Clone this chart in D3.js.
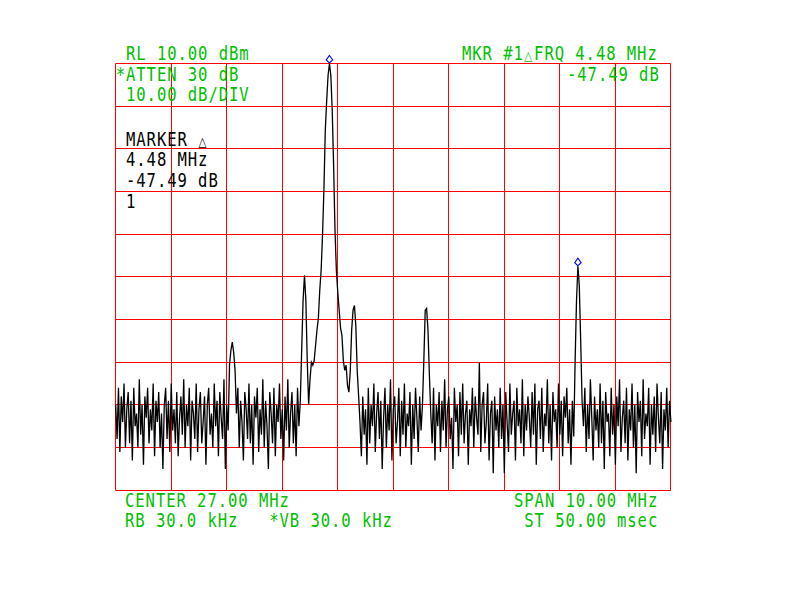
<!DOCTYPE html>
<html>
<head>
<meta charset="utf-8">
<script src="https://cdn.jsdelivr.net/npm/d3@7/dist/d3.min.js"></script>
<style>
  html, body { margin: 0; padding: 0; background: #ffffff; }
  svg { display: block; }
</style>
</head>
<body>
<script>
// ---------------- DATA ----------------
const startMHz = 22, stopMHz = 32;          // CENTER 27.00 MHz, SPAN 10.00 MHz
const refLevelDbm = 10, dbPerDiv = 10, nDivY = 10, nDivX = 10;
const nPoints = 401;

// trace amplitude (dBm), one value per sweep point (401 points)
const traceDb = [
  -70, -78, -66, -81, -68, -74, -65, -80, -71, -67,
  -79, -69, -83, -66, -75, -72, -80, -64, -77, -70,
  -84, -68, -73, -66, -79, -71, -76, -65, -82, -69,
  -74, -67, -80, -72, -85, -70, -66, -78, -69, -81,
  -65, -76, -71, -79, -67, -82, -73, -68, -77, -64,
  -80, -70, -75, -66, -83, -69, -72, -78, -65, -81,
  -71, -67, -79, -74, -68, -84, -70, -66, -77, -72,
  -80, -65, -75, -69, -82, -67, -73, -78, -64, -85,
  -70, -76,
  -60.7, -57.2, -55.3, -57.7, -61.9,
  -72, -66, -80, -69, -74, -83, -67, -71, -78, -65, -79, -70, -84,
  -68, -73, -66, -81, -71, -77, -64, -80, -69, -75,
  -85, -67, -72, -79, -66, -82, -70, -74, -65, -78,
  -71, -83, -68, -76, -64, -80, -72, -67, -79, -70,
  -82, -66, -75, -69,
  -57, -45.5, -39.6, -45.5, -59.6, -70, -64, -60, -60.7, -59.6,
  -56, -52.5, -49.7, -43.2, -38.5, -30.3, -19.7, -5.7, 1.3, 7.2,
  10.0, 7.2, -1, -13.9, -29.1, -38.5, -43.6, -47.8, -52, -53.7,
  -59.6, -61.9, -60.7, -65.4, -67, -61.9, -52.5, -47.8, -46.7, -51.4,
  -62, -67.8,
  -74, -82, -68, -77, -71, -84, -66, -79, -70, -75,
  -65, -81, -72, -67, -78, -69, -85, -73, -66, -80,
  -70, -76, -64, -83, -71, -68, -79, -74, -66, -82,
  -69, -77, -65, -80, -72, -75, -67, -84, -70, -78,
  -66, -73, -81, -68, -76, -70,
  -59.6, -47.8, -47.4, -52.5, -63,
  -72, -79, -66, -83, -70, -75, -67, -81, -69, -76,
  -64, -80, -71, -68, -78, -73, -85, -66, -74, -70,
  -82, -67, -77, -65, -79, -72, -69, -84, -71, -75,
  -66, -80, -68, -73, -77, -60, -81, -70, -67, -79,
  -74, -65, -83, -72, -69, -86, -68, -76, -71, -80,
  -66, -78, -70, -86, -67, -74, -81, -65, -77, -72,
  -69, -83, -66, -75, -71, -79, -64, -82, -70, -76,
  -68, -73, -80, -67, -77, -65, -84, -71, -69, -78,
  -66, -81, -72, -75, -64, -79, -70, -83, -67, -74,
  -71, -80, -65, -77, -69, -82, -68, -73, -66, -79,
  -71, -84, -69,
  -77.4, -59.6, -45.5, -37.49, -42, -54.9, -68.9,
  -75, -66, -81, -70, -78, -64, -73, -83, -68, -76,
  -71, -80, -65, -79, -69, -85, -67, -74, -72, -82,
  -66, -77, -70, -84, -68, -75, -64, -81, -73, -69,
  -79, -66, -83, -71, -76, -65, -80, -70, -86, -67,
  -74, -69, -82, -64, -78, -72, -75, -66, -84, -70,
  -77, -68, -81, -65, -73, -79, -67, -85, -71, -76,
  -66, -80, -69, -74
];

// marker sweep-point indices (marker 1 reference at main peak, delta marker)
const markerIdx = [154, 333];

// annotation texts
const topLeftText   = ["RL 10.00 dBm", "*ATTEN 30 dB", " 10.00 dB/DIV"];
const topRightText  = ["MKR #1\u25B3FRQ 4.48 MHz", "-47.49 dB"];
const markerText    = ["MARKER \u25B3", "4.48 MHz", "-47.49 dB", "1"];
const bottomLeftText  = ["CENTER 27.00 MHz", "RB 30.0 kHz   *VB 30.0 kHz"];
const bottomRightText = ["SPAN 10.00 MHz", " ST 50.00 msec"];

// ---------------- DRAW ----------------
const W = 800, H = 600;
const plot = { left: 115.7, right: 670.9, top: 63.5, bottom: 490.3 };

const svg = d3.select("body").append("svg")
  .attr("width", W).attr("height", H)
  .style("background", "#ffffff");

const x = d3.scaleLinear().domain([startMHz, stopMHz]).range([plot.left, plot.right]);
const y = d3.scaleLinear()
  .domain([refLevelDbm - dbPerDiv * nDivY, refLevelDbm])
  .range([plot.bottom, plot.top]);

const crisp = v => Math.floor(v) + 0.5;

// grid
const gx = d3.range(nDivX + 1).map(k => startMHz + k * (stopMHz - startMHz) / nDivX);
const gy = d3.range(nDivY + 1).map(k => refLevelDbm - k * dbPerDiv);
const grid = svg.append("g").attr("stroke", "#ff0000").attr("stroke-width", 1).attr("fill", "none");
grid.selectAll("line.v").data(gx).join("line").attr("class", "v")
  .attr("x1", d => crisp(x(d))).attr("x2", d => crisp(x(d)))
  .attr("y1", crisp(y.range()[1])).attr("y2", crisp(y.range()[0]));
grid.selectAll("line.h").data(gy).join("line").attr("class", "h")
  .attr("y1", d => crisp(y(d))).attr("y2", d => crisp(y(d)))
  .attr("x1", crisp(x.range()[0])).attr("x2", crisp(x.range()[1]));

// trace
const step = (stopMHz - startMHz) / (nPoints - 1);
const freqOf = i => startMHz + i * step;
const line = d3.line().x((d, i) => x(freqOf(i))).y(d => y(d));
svg.append("path").datum(traceDb)
  .attr("d", line)
  .attr("fill", "none")
  .attr("stroke", "#000000")
  .attr("stroke-width", 1.3)
  .attr("stroke-linejoin", "miter");

// markers (blue diamond sitting on the trace)
svg.selectAll("path.mkr").data(markerIdx).join("path").attr("class", "mkr")
  .attr("transform", i => `translate(${x(freqOf(i))},${y(traceDb[i])})`)
  .attr("d", "M0,-8 L3.2,-3.6 L0,-0.5 L-3.2,-3.6 Z")
  .attr("fill", "none").attr("stroke", "#0000ff").attr("stroke-width", 1.1);

// monospaced annotation text (fixed character pitch)
const pitch = 10.3, sx = 0.8;
const TRI = "\u25B3";
function label(str, x0, yb, color) {
  const chars = Array.from(str);
  const t = svg.append("text")
    .attr("transform", `translate(${x0},${yb}) scale(${sx},1)`)
    .attr("font-family", "'DejaVu Sans Mono', 'Liberation Mono', monospace")
    .attr("font-size", 19.5)
    .attr("fill", color)
    .style("white-space", "pre");
  t.selectAll("tspan").data(chars).join("tspan")
    .attr("x", (c, i) => (i * pitch) / sx + (c === TRI ? 0.5 : 0))
    .attr("y", 0)
    .attr("font-family", c => c === TRI ? "'DejaVu Sans', sans-serif" : null)
    .attr("font-size", c => c === TRI ? 13 : null)
    .text(c => c);
}
const green = "#00c000";
label(topLeftText[0], 126, 60, green);
label(topLeftText[1], 115.7, 80.7, green);
label(topLeftText[2], 115.7, 101, green);
label(topRightText[0], 462, 60, green);
label(topRightText[1], 567, 80.7, green);
markerText.forEach((s, k) => label(s, 126, [146, 166, 186.7, 208][k], "#000000"));
label(bottomLeftText[0], 125, 506.7, green);
label(bottomLeftText[1], 125, 526.7, green);
label(bottomRightText[0], 514, 506.7, green);
label(bottomRightText[1], 514, 526.7, green);
</script>
</body>
</html>
